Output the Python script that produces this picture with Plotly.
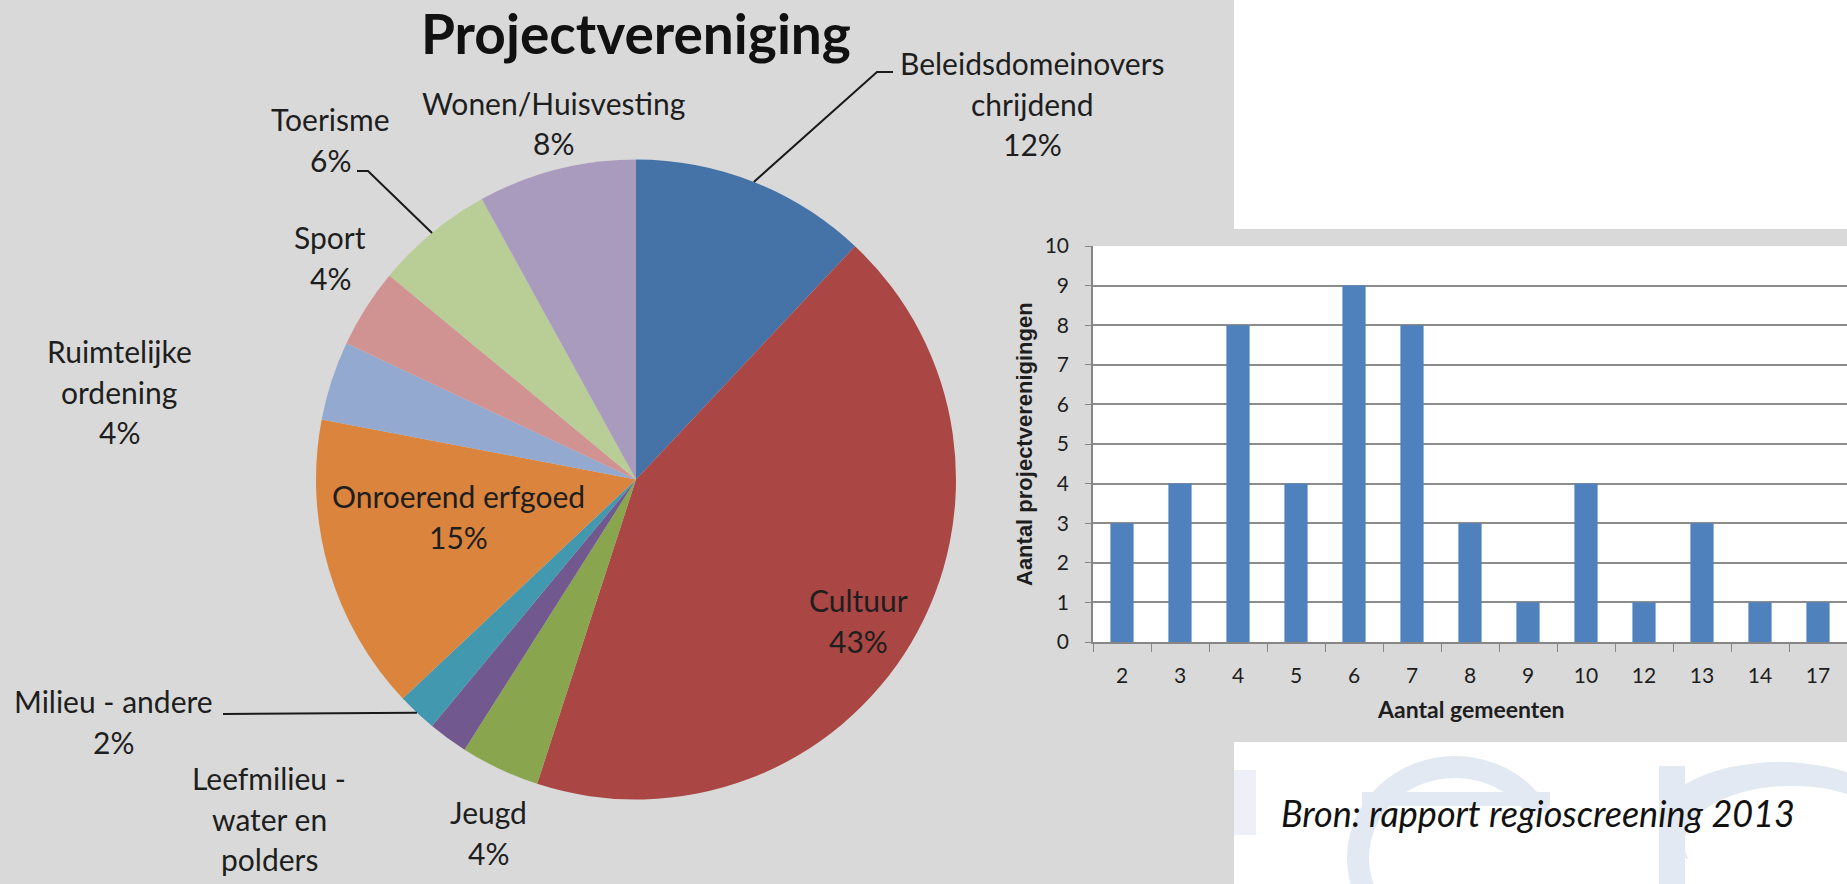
import math
import plotly.graph_objects as go

W, H = 1847, 884

# ---------------- data ----------------
pie_labels = ["Beleidsdomeinoverschrijdend", "Cultuur", "Jeugd",
              "Leefmilieu - water en polders", "Milieu - andere",
              "Onroerend erfgoed", "Ruimtelijke ordening", "Sport",
              "Toerisme", "Wonen/Huisvesting"]
pie_values = [12, 43, 4, 2, 2, 15, 4, 4, 6, 8]
pie_colors = ["#4572A7", "#AA4643", "#89A54E", "#71588F", "#4198AF",
              "#DB843D", "#93A9CF", "#D19392", "#B9CD96", "#A99BBD"]
# label text lines as printed on the chart (percent appended where shown)
pie_label_lines = [["Beleidsdomeinovers", "chrijdend"], ["Cultuur"], ["Jeugd"],
                   ["Leefmilieu -", "water en", "polders"], ["Milieu - andere"],
                   ["Onroerend erfgoed"], ["Ruimtelijke", "ordening"], ["Sport"],
                   ["Toerisme"], ["Wonen/Huisvesting"]]
pie_show_pct = [True, True, True, False, True, True, True, True, True, True]

bar_categories = ["2", "3", "4", "5", "6", "7", "8", "9", "10", "12", "13", "14", "17"]
bar_values = [3, 4, 8, 4, 9, 8, 3, 1, 4, 1, 3, 1, 1]
y_ticks = list(range(0, 11))

# ---------------- layout helpers (pixel -> paper) ----------------
def px(x):
    return x / W

def py(y):
    return 1 - y / H

FONT = "Lato, 'Open Sans', sans-serif"
TXT = "#1e1e1e"

# pie geometry (pixels)
CX, CY, R = 636, 479.5, 320
# label anchor (center x, first line y) in pixels
label_pos = [(1032, 63), (858, 600), (488, 812), (269, 778), (113, 701),
             (458, 496), (119, 351), (330, 237), (330, 119), (553, 103)]
LINE = 40.5

fig = go.Figure()

fig.add_trace(go.Pie(
    labels=pie_labels, values=pie_values, sort=False, direction="clockwise",
    rotation=0, textinfo="none", hoverinfo="label+percent",
    marker=dict(colors=pie_colors, line=dict(width=0)),
    domain=dict(x=[px(CX - R), px(CX + R)], y=[py(CY + R), py(CY - R)]),
    showlegend=False,
))

fig.add_trace(go.Bar(
    x=bar_categories, y=bar_values, marker=dict(color="#4F81BD", line=dict(width=0)),
    xaxis="x", yaxis="y", showlegend=False, width=0.4,
))

WM = "#e3e9f2"
def rect(x0, y0, x1, y1, color):
    return dict(type="rect", xref="paper", yref="paper", x0=px(x0), x1=px(x1),
                y0=py(y1), y1=py(y0), fillcolor=color, line=dict(width=0), layer="below")

def oval(x0, y0, x1, y1, color):
    return dict(type="circle", xref="paper", yref="paper", x0=px(x0), x1=px(x1),
                y0=py(y1), y1=py(y0), fillcolor=color, line=dict(width=0), layer="below")

shapes = [
    rect(1234, 0, W, 229, "white"),
    rect(1234, 742, W, H, "white"),
    # faint watermark letters in the lower white panel ("e" and "r")
    oval(1347, 756, 1563, 960, WM),
    oval(1369, 778, 1541, 938, "white"),
    rect(1362, 792, 1550, 806, WM),
    rect(1470, 812, 1565, 884, "white"),
    rect(1659, 766, 1685, H, WM),
    oval(1659, 762, 1900, 880, WM),
    oval(1684, 786, 1900, 900, "white"),
    rect(1659, 800, 1685, 884, WM),
    rect(1234, 770, 1256, 835, "#edf1f7"),
]

annotations = []

# title
annotations.append(dict(text="<b>Projectvereniging</b>", x=px(636), y=py(33), xref="paper",
                        yref="paper", showarrow=False, xanchor="center", yanchor="middle",
                        font=dict(family=FONT, size=55, color="#111111")))

# pie labels
total = sum(pie_values)
for i, lines in enumerate(pie_label_lines):
    txt_lines = list(lines)
    if pie_show_pct[i]:
        txt_lines.append(f"{round(100 * pie_values[i] / total)}%")
    xc, y0 = label_pos[i]
    for k, t in enumerate(txt_lines):
        annotations.append(dict(text=t, x=px(xc), y=py(y0 + k * LINE), xref="paper", yref="paper",
                                showarrow=False, xanchor="center", yanchor="middle",
                                font=dict(family=FONT, size=30, color=TXT)))

# leader lines: from label to the slice mid-angle on the pie edge
def edge_point(i):
    cum = sum(pie_values[:i]) + pie_values[i] / 2
    a = 2 * math.pi * cum / total
    return CX + R * math.sin(a), CY - R * math.cos(a)

leaders = {0: [(893, 72), (877, 72)], 8: [(357, 171), (368, 171)], 4: [(223, 714)]}
for i, pts in leaders.items():
    ex, ey = edge_point(i)
    allpts = pts + [(ex, ey)]
    path = "M " + " L ".join(f"{px(x)},{py(y)}" for x, y in allpts)
    shapes.append(dict(type="path", xref="paper", yref="paper", path=path,
                       line=dict(color="#1a1a1a", width=2)))

# bar chart axis titles
annotations.append(dict(text="<b>Aantal gemeenten</b>", x=px(1471), y=py(709), xref="paper",
                        yref="paper", showarrow=False, xanchor="center", yanchor="middle",
                        font=dict(family=FONT, size=23, color=TXT)))
annotations.append(dict(text="<b>Aantal projectverenigingen</b>", x=px(1024), y=py(444),
                        xref="paper", yref="paper", showarrow=False, textangle=-90,
                        xanchor="center", yanchor="middle",
                        font=dict(family="'Liberation Sans', Arial, sans-serif", size=22, color=TXT)))

# source note
annotations.append(dict(text="<i>Bron: rapport regioscreening 2013</i>", x=px(1538), y=py(813),
                        xref="paper", yref="paper", showarrow=False, xanchor="center",
                        yanchor="middle", font=dict(family=FONT, size=36, color="#111111")))

fig.update_layout(
    width=W, height=H, margin=dict(l=0, r=0, t=0, b=0, pad=0, autoexpand=False),
    paper_bgcolor="#D9D9D9", plot_bgcolor="white",
    font=dict(family=FONT, color=TXT),
    shapes=shapes, annotations=annotations,
    xaxis=dict(domain=[px(1093), 1], anchor="y", type="category",
               range=[-0.5, len(bar_categories) - 0.5],
               tickson="boundaries", ticks="outside", ticklen=8, tickcolor="#868686",
               showline=True, linecolor="#868686", linewidth=1.5, showgrid=False,
               tickfont=dict(family=FONT, size=21, color=TXT), ticklabelstandoff=14,
               automargin=False, fixedrange=True),
    yaxis=dict(domain=[py(642), py(246)], anchor="x", range=[0, 10],
               tickvals=y_ticks, ticks="outside", ticklen=6, tickcolor="#868686",
               showline=True, linecolor="#868686", linewidth=1.5,
               showgrid=True, gridcolor="#8c8c8c", gridwidth=1.5, zeroline=False,
               tickfont=dict(family=FONT, size=21, color=TXT), ticklabelstandoff=12,
               automargin=False, fixedrange=True),
)

fig.write_html("out.html", config={"displayModeBar": False},
               post_script="document.body.style.margin='0';document.body.style.overflow='hidden';")
